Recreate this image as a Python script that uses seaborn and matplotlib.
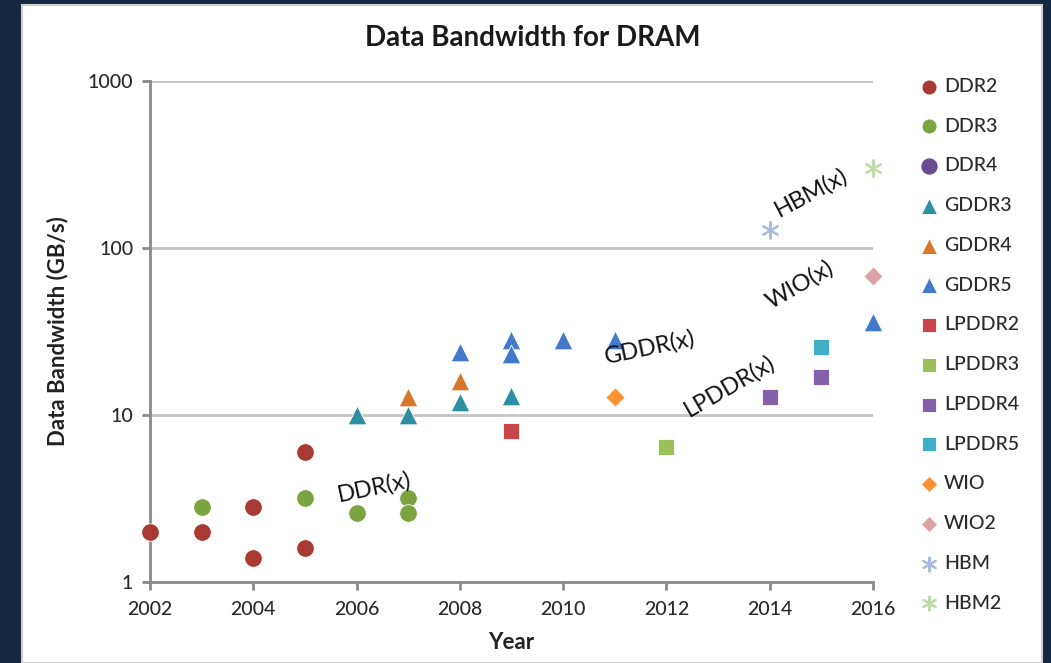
import numpy as np
import matplotlib
matplotlib.use("Agg")
import matplotlib.pyplot as plt
import matplotlib.patches as mpatches
import seaborn as sns

# series values (year, GB/s)
ddr2_x = [2002, 2003, 2004, 2004, 2005, 2005]
ddr2_y = [2.0, 2.0, 2.8, 1.4, 6.0, 1.6]
ddr3_x = [2003, 2005, 2006, 2007, 2007]
ddr3_y = [2.8, 3.2, 2.6, 3.2, 2.6]
ddr4_x = []
ddr4_y = []
gddr3_x = [2006, 2007, 2008, 2009]
gddr3_y = [10.0, 10.0, 12.0, 13.0]
gddr4_x = [2007, 2008]
gddr4_y = [12.8, 16.0]
gddr5_x = [2008, 2009, 2009, 2010, 2011, 2016]
gddr5_y = [24.0, 28.0, 23.2, 28.0, 28.0, 36.0]
lpddr2_x = [2009]
lpddr2_y = [8.0]
lpddr3_x = [2012]
lpddr3_y = [6.4]
lpddr4_x = [2014, 2015]
lpddr4_y = [12.8, 17.0]
lpddr5_x = [2015]
lpddr5_y = [25.6]
wio_x = [2011]
wio_y = [12.8]
wio2_x = [2016]
wio2_y = [68.0]
hbm_x = [2014]
hbm_y = [128.0]
hbm2_x = [2016]
hbm2_y = [300.0]

series_names = ["DDR2", "DDR3", "DDR4", "GDDR3", "GDDR4", "GDDR5", "LPDDR2",
                "LPDDR3", "LPDDR4", "LPDDR5", "WIO", "WIO2", "HBM", "HBM2"]
series_x = [ddr2_x, ddr3_x, ddr4_x, gddr3_x, gddr4_x, gddr5_x, lpddr2_x,
            lpddr3_x, lpddr4_x, lpddr5_x, wio_x, wio2_x, hbm_x, hbm2_x]
series_y = [ddr2_y, ddr3_y, ddr4_y, gddr3_y, gddr4_y, gddr5_y, lpddr2_y,
            lpddr3_y, lpddr4_y, lpddr5_y, wio_y, wio2_y, hbm_y, hbm2_y]

colors = ["#A83A33", "#7BA33F", "#6A4C94", "#2E8FA3", "#D8772C", "#4379C8", "#C8454A",
          "#9BC25A", "#8560AA", "#3FB0C8", "#F99233", "#DBA3A6", "#A9BCE0", "#BFDCA8"]
markers = ["o", "o", "o", "^", "^", "^", "s", "s", "s", "s", "D", "D", (6, 2, 0), (6, 2, 0)]
sizes = [160, 160, 160, 180, 180, 180, 140, 140, 140, 140, 95, 95, 140, 140]

annotations = [("DDR(x)", 2006.34, 3.7, 12), ("GDDR(x)", 2011.68, 25.5, 12),
               ("LPDDR(x)", 2013.23, 15.0, 30), ("WIO(x)", 2014.58, 60.0, 30),
               ("HBM(x)", 2014.8, 215.0, 28)]

sns.set_theme(style="white")
plt.rcParams['font.family'] = ['Lato', 'DejaVu Sans']

fig = plt.figure(figsize=(10.51, 6.63), dpi=100)
fig.patch.set_facecolor("#142841")
fig.patches.append(mpatches.Rectangle((22 / 1051, 0), 1020 / 1051, 658 / 663,
                                      transform=fig.transFigure, facecolor="white",
                                      edgecolor="#d0d0d0", linewidth=1.5, zorder=-10))

ax = fig.add_axes([150 / 1051, 1 - 582 / 663, 723 / 1051, 501 / 663])
ax.set_zorder(5)
ax.patch.set_alpha(0)

for name, xs, ys, c, m, s in zip(series_names, series_x, series_y, colors, markers, sizes):
    star = isinstance(m, tuple)
    if len(xs) == 0:
        ax.scatter([], [], marker=m, s=s, color=c, label=name)
        continue
    if star:
        sns.scatterplot(x=xs, y=ys, marker=m, s=s, color=c, edgecolor=c,
                        linewidth=1.5, label=name, ax=ax, zorder=3, clip_on=False)
    else:
        sns.scatterplot(x=xs, y=ys, marker=m, s=s, color=c, edgecolor="white",
                        linewidth=0.6, label=name, ax=ax, zorder=3, clip_on=False)

for text, tx, ty, rot in annotations:
    ax.text(tx, ty, text, rotation=rot, ha="center", va="center", fontsize=17,
            color="#111111", rotation_mode="anchor")

ax.set_yscale("log")
ax.set_ylim(1, 1000)
ax.set_xlim(2002, 2016)
ax.set_xticks(np.arange(2002, 2017, 2))
ax.set_yticks([1, 10, 100, 1000])
ax.set_yticklabels(["1", "10", "100", "1000"])
ax.minorticks_off()
ax.yaxis.grid(True, color="#c4c4c4", linewidth=2)
ax.set_axisbelow(True)
for side in ["top", "right"]:
    ax.spines[side].set_visible(False)
for side in ["left", "bottom"]:
    ax.spines[side].set_color("#8a8a8a")
    ax.spines[side].set_linewidth(2)
ax.tick_params(axis="both", which="major", direction="out", length=6, width=2,
               color="#8a8a8a", labelsize=14, labelcolor="#2a2a2a", pad=6)
ax.tick_params(axis="x", bottom=True, pad=8)
ax.tick_params(axis="y", left=True)
for lab in ax.get_xticklabels() + ax.get_yticklabels():
    lab.set_fontweight("medium")

ax.set_xlabel("Year", fontsize=16, fontweight="bold", color="#222222", labelpad=10)
ax.set_ylabel("Data Bandwidth (GB/s)", fontsize=16, fontweight="bold", color="#222222",
              labelpad=14)
fig.text(533 / 1051, 1 - 38 / 663, "Data Bandwidth for DRAM", ha="center", va="center",
         fontsize=20, fontweight="bold", color="#1a1a1a")

leg = ax.legend(loc="upper left", bbox_to_anchor=(910 / 1051, 1 - 70 / 663),
                bbox_transform=fig.transFigure, frameon=False, fontsize=14,
                labelspacing=1.17, handletextpad=0.15, handlelength=1.2,
                markerscale=0.85, borderaxespad=0)
for t in leg.get_texts():
    t.set_color("#2a2a2a")
    t.set_fontweight("medium")

fig.savefig("out.png", dpi=100, facecolor=fig.get_facecolor())
